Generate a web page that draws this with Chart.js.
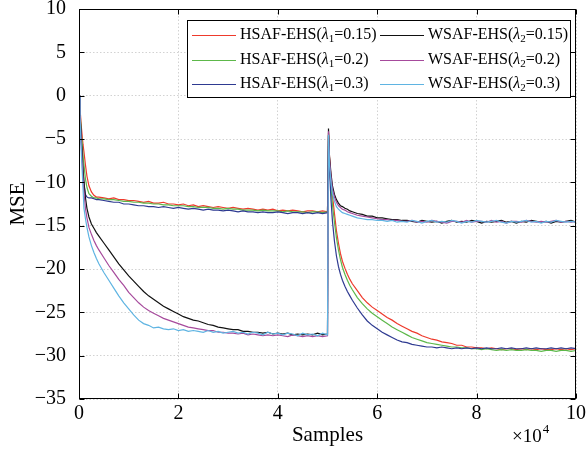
<!DOCTYPE html>
<html lang="en">
<head>
<meta charset="UTF-8">
<title>MSE vs Samples</title>
<script src="https://cdn.jsdelivr.net/npm/chart.js"></script>
<style>
  body { margin: 0; background: #fff; }
  #wrap { width: 587px; height: 453px; }
</style>
</head>
<body>
<div id="wrap"><canvas id="mseChart" width="587" height="453"></canvas></div>
<script>
// x in units of 10^4 samples
const samples = [
  0, 0.02, 0.05, 0.08, 0.1, 0.13, 0.16, 0.2, 0.25, 0.3, 0.35, 0.4,
  0.5, 0.6, 0.7, 0.8, 0.9, 1.0, 1.1, 1.2, 1.3, 1.4,
  1.5, 1.6, 1.7, 1.8, 1.9, 2.0, 2.1, 2.2, 2.3, 2.4,
  2.5, 2.6, 2.7, 2.8, 2.9, 3.0, 3.1, 3.2, 3.3, 3.4,
  3.5, 3.6, 3.7, 3.8, 3.9, 4.0, 4.1, 4.2, 4.3, 4.4,
  4.5, 4.6, 4.7, 4.8, 4.9, 5.0,
  5.02, 5.04, 5.07, 5.1, 5.14, 5.18, 5.22, 5.26, 5.3, 5.35, 5.4, 5.45, 5.5,
  5.6, 5.7, 5.8, 5.9, 6.0, 6.1, 6.2, 6.3, 6.4, 6.5,
  6.6, 6.7, 6.8, 6.9, 7.0, 7.1, 7.2, 7.3, 7.4, 7.5,
  7.6, 7.7, 7.8, 7.9, 8.0, 8.1, 8.2, 8.3, 8.4, 8.5,
  8.6, 8.7, 8.8, 8.9, 9.0, 9.1, 9.2, 9.3, 9.4, 9.5,
  9.6, 9.7, 9.8, 9.9, 10.0
];

const hsaf015 = [
  0, -1.5, -3.8, -5.6, -6.5, -8.0, -9.3, -10.4, -11.1, -11.5, -11.7, -11.7,
  -11.8, -11.9, -11.8, -12.0, -12.0, -12.1, -12.1, -12.2, -12.3, -12.2,
  -12.4, -12.4, -12.3, -12.5, -12.5, -12.6, -12.5, -12.7, -12.6, -12.8,
  -12.7, -12.8, -12.9, -12.8, -12.9, -13.0, -12.9, -13.0, -13.1, -13.0,
  -13.1, -13.2, -13.1, -13.2, -13.1, -13.3, -13.2, -13.3, -13.2, -13.3,
  -13.4, -13.3, -13.3, -13.4, -13.3, -13.4,
  -4.3, -7.0, -9.5, -11.5, -13.6, -15.6, -17.0, -18.2, -19.1, -19.9, -20.6, -21.2, -21.7,
  -22.5, -23.3, -23.9, -24.4, -24.8, -25.2, -25.6, -25.9, -26.3, -26.6,
  -26.9, -27.2, -27.4, -27.7, -27.9, -28.1, -28.2, -28.4, -28.5, -28.6,
  -28.8, -28.8, -29.0, -29.0, -29.1, -29.1, -29.2, -29.1, -29.2, -29.3,
  -29.2, -29.2, -29.3, -29.2, -29.3, -29.2, -29.3, -29.2, -29.3, -29.3,
  -29.2, -29.3, -29.2, -29.3, -29.2
];

const hsaf02 = [
  0, -1.8, -4.5, -6.8, -8.0, -9.6, -10.6, -11.3, -11.6, -11.8, -11.8, -11.9,
  -11.9, -12.0, -12.0, -12.1, -12.2, -12.2, -12.3, -12.3, -12.4, -12.4,
  -12.5, -12.5, -12.6, -12.6, -12.7, -12.7, -12.7, -12.8, -12.8, -12.9,
  -12.9, -12.9, -13.0, -13.0, -13.1, -13.0, -13.1, -13.1, -13.2, -13.2,
  -13.2, -13.3, -13.2, -13.3, -13.3, -13.3, -13.4, -13.3, -13.4, -13.4,
  -13.4, -13.5, -13.4, -13.4, -13.5, -13.4,
  -4.5, -7.8, -10.6, -12.6, -14.6, -16.4, -17.8, -18.9, -19.8, -20.6, -21.3, -21.9, -22.4,
  -23.3, -24.0, -24.6, -25.1, -25.5, -25.9, -26.3, -26.7, -27.0, -27.3,
  -27.6, -27.9, -28.1, -28.3, -28.5, -28.6, -28.7, -28.8, -28.9, -29.0,
  -29.0, -29.1, -29.1, -29.2, -29.2, -29.3, -29.2, -29.3, -29.4, -29.3,
  -29.4, -29.3, -29.4, -29.4, -29.3, -29.4, -29.4, -29.5, -29.4, -29.4,
  -29.5, -29.4, -29.4, -29.5, -29.4
];

const hsaf03 = [
  0, -2.2, -5.6, -8.6, -10.2, -11.4, -11.7, -11.8, -11.8, -11.9, -12.0, -12.0,
  -12.1, -12.2, -12.3, -12.3, -12.5, -12.5, -12.6, -12.7, -12.7, -12.8,
  -12.8, -12.9, -12.8, -12.9, -13.0, -12.9, -13.0, -13.1, -13.0, -13.1,
  -13.2, -13.1, -13.2, -13.2, -13.3, -13.2, -13.3, -13.4, -13.3, -13.4,
  -13.4, -13.5, -13.4, -13.5, -13.5, -13.4, -13.5, -13.6, -13.5, -13.5,
  -13.6, -13.5, -13.6, -13.5, -13.6, -13.5,
  -4.6, -8.5, -12.0, -14.5, -16.8, -18.5, -19.7, -20.6, -21.3, -22.0, -22.6, -23.1, -23.6,
  -24.5, -25.3, -26.0, -26.5, -26.9, -27.3, -27.6, -27.9, -28.2, -28.4,
  -28.5, -28.7, -28.8, -28.9, -29.0, -29.0, -29.1, -29.0, -29.1, -29.2,
  -29.1, -29.2, -29.1, -29.2, -29.1, -29.2, -29.1, -29.2, -29.2, -29.1,
  -29.2, -29.1, -29.2, -29.2, -29.1, -29.2, -29.1, -29.2, -29.2, -29.1,
  -29.2, -29.1, -29.2, -29.1, -29.2
];

const wsaf015 = [
  0, -2.0, -5.5, -8.5, -10.0, -11.8, -13.0, -14.0, -14.8, -15.3, -15.8, -16.2,
  -17.0, -17.8, -18.6, -19.4, -20.1, -20.8, -21.4, -22.0, -22.6, -23.1,
  -23.5, -23.9, -24.3, -24.6, -24.9, -25.2, -25.5, -25.7, -25.9, -26.0,
  -26.2, -26.4, -26.5, -26.7, -26.8, -26.9, -27.0, -27.0, -27.2, -27.2,
  -27.3, -27.3, -27.4, -27.3, -27.5, -27.4, -27.5, -27.4, -27.6, -27.5,
  -27.6, -27.5, -27.6, -27.4, -27.6, -27.5,
  -3.8, -7.0, -9.0, -10.4, -11.4, -12.0, -12.4, -12.7, -12.8, -13.0, -13.1, -13.3, -13.4,
  -13.6, -13.7, -13.9, -13.9, -14.1, -14.1, -14.2, -14.3, -14.3, -14.4,
  -14.4, -14.5, -14.6, -14.4, -14.5, -14.6, -14.5, -14.7, -14.5, -14.4,
  -14.6, -14.5, -14.6, -14.4, -14.5, -14.7, -14.5, -14.6, -14.5, -14.4,
  -14.6, -14.5, -14.7, -14.5, -14.6, -14.4, -14.5, -14.6, -14.5, -14.7,
  -14.5, -14.6, -14.5, -14.4, -14.6
];

const wsaf02 = [
  0, -2.3, -6.2, -9.5, -11.2, -13.0, -14.1, -15.2, -16.0, -16.7, -17.3, -17.8,
  -18.7, -19.6, -20.4, -21.2, -21.9, -22.7, -23.3, -23.9, -24.4, -24.8,
  -25.1, -25.4, -25.7, -25.9, -26.1, -26.3, -26.5, -26.7, -26.8, -26.9,
  -27.0, -27.1, -27.1, -27.3, -27.3, -27.4, -27.4, -27.5, -27.4, -27.6,
  -27.5, -27.6, -27.7, -27.6, -27.7, -27.6, -27.7, -27.8, -27.6, -27.7,
  -27.8, -27.7, -27.8, -27.7, -27.8, -27.7,
  -4.1, -7.4, -9.4, -10.8, -11.7, -12.3, -12.7, -12.9, -13.1, -13.2, -13.4, -13.5, -13.6,
  -13.8, -13.9, -14.0, -14.1, -14.2, -14.3, -14.3, -14.4, -14.4, -14.5,
  -14.5, -14.4, -14.6, -14.5, -14.6, -14.4, -14.5, -14.6, -14.7, -14.5,
  -14.5, -14.6, -14.4, -14.6, -14.5, -14.5, -14.6, -14.4, -14.6, -14.5,
  -14.7, -14.5, -14.5, -14.6, -14.4, -14.5, -14.6, -14.5, -14.6, -14.5,
  -14.4, -14.6, -14.5, -14.6, -14.5
];

const wsaf03 = [
  0, -2.6, -7.0, -10.6, -13.0, -14.2, -15.2, -16.3, -17.3, -18.1, -18.8, -19.4,
  -20.4, -21.3, -22.2, -23.1, -23.9, -24.6, -25.3, -25.9, -26.3, -26.5,
  -26.8, -26.7, -26.9, -27.0, -26.9, -27.1, -27.0, -27.2, -27.1, -27.2,
  -27.3, -27.1, -27.3, -27.2, -27.4, -27.3, -27.2, -27.4, -27.3, -27.5,
  -27.3, -27.4, -27.6, -27.3, -27.5, -27.4, -27.6, -27.4, -27.5, -27.7,
  -27.4, -27.6, -27.5, -27.7, -27.4, -27.6,
  -4.5, -8.0, -10.0, -11.3, -12.2, -12.8, -13.1, -13.3, -13.5, -13.6, -13.7, -13.8, -13.9,
  -14.1, -14.2, -14.3, -14.3, -14.4, -14.4, -14.5, -14.4, -14.6, -14.5,
  -14.6, -14.4, -14.5, -14.7, -14.5, -14.4, -14.6, -14.5, -14.6, -14.4,
  -14.5, -14.7, -14.5, -14.6, -14.4, -14.5, -14.6, -14.5, -14.4, -14.6,
  -14.7, -14.5, -14.6, -14.5, -14.4, -14.6, -14.5, -14.7, -14.5, -14.6,
  -14.4, -14.5, -14.6, -14.5, -14.6
];

const seriesNames = [
  ['HSAF-EHS(', '1', '=0.15)'], ['HSAF-EHS(', '1', '=0.2)'], ['HSAF-EHS(', '1', '=0.3)'],
  ['WSAF-EHS(', '2', '=0.15)'], ['WSAF-EHS(', '2', '=0.2)'], ['WSAF-EHS(', '2', '=0.3)']
];
const seriesColors = ['#ee3a2c', '#5db84a', '#2e3a91', '#111111', '#a64a9c', '#5fb4e2'];
const seriesData = [hsaf015, hsaf02, hsaf03, wsaf015, wsaf02, wsaf03];
const drawOrder = [5, 4, 3, 2, 1, 0];

const serif = '"Liberation Serif", "Times New Roman", serif';

// text like HSAF-EHS(λ1=0.15) with italic lambda and subscript
function drawName(ctx, x, y, parts) {
  ctx.textBaseline = 'middle';
  ctx.textAlign = 'left';
  ctx.font = '16px ' + serif;
  ctx.fillText(parts[0], x, y);
  x += ctx.measureText(parts[0]).width;
  ctx.font = 'italic 16px ' + serif;
  ctx.fillText('\u03bb', x, y);
  x += ctx.measureText('\u03bb').width;
  ctx.font = '11px ' + serif;
  ctx.fillText(parts[1], x, y + 4);
  x += ctx.measureText(parts[1]).width;
  ctx.font = '16px ' + serif;
  ctx.fillText(parts[2], x, y);
}

const frame = {
  id: 'frame',
  afterDatasetsDraw(chart) {
    const { ctx, chartArea: a, scales } = chart;
    const L = Math.round(a.left) + 0.5, R = Math.round(a.right) - 0.5;
    const T = Math.round(a.top) + 0.5, B = Math.round(a.bottom) - 0.5;
    ctx.save();
    ctx.strokeStyle = '#000';
    ctx.lineWidth = 1;
    ctx.beginPath();
    scales.x.ticks.forEach(t => {
      const p = Math.round(scales.x.getPixelForValue(t.value)) + 0.5;
      ctx.moveTo(p, B); ctx.lineTo(p, B - 5);
      ctx.moveTo(p, T); ctx.lineTo(p, T + 5);
    });
    scales.y.ticks.forEach(t => {
      const p = Math.round(scales.y.getPixelForValue(t.value)) + 0.5;
      ctx.moveTo(L, p); ctx.lineTo(L + 5, p);
      ctx.moveTo(R, p); ctx.lineTo(R - 5, p);
    });
    ctx.stroke();
    ctx.strokeRect(L, T, R - L, B - T);

    // legend box
    ctx.fillStyle = '#fff';
    ctx.fillRect(187, 20, 383, 77);
    ctx.strokeRect(187.5, 20.5, 383, 77);
    const rows = [35, 60, 84];
    seriesNames.forEach((parts, i) => {
      const col = i < 3 ? 0 : 1;
      const y = rows[i % 3];
      const lx = col === 0 ? 192 : 380;
      const tx = col === 0 ? 240 : 428;
      ctx.strokeStyle = seriesColors[i];
      ctx.lineWidth = 1.2;
      ctx.beginPath();
      ctx.moveTo(lx, y + 0.5); ctx.lineTo(lx + 44, y + 0.5);
      ctx.stroke();
      ctx.fillStyle = '#000';
      drawName(ctx, tx, y, parts);
    });

    // exponent note under the x axis
    ctx.fillStyle = '#000';
    ctx.textBaseline = 'middle';
    ctx.textAlign = 'left';
    ctx.font = '19px ' + serif;
    ctx.fillText('\u00d710', 512, 437);
    const w = ctx.measureText('\u00d710').width;
    ctx.font = '13px ' + serif;
    ctx.fillText('4', 512 + w + 1, 430);
    ctx.restore();
  }
};

new Chart(document.getElementById('mseChart'), {
  type: 'line',
  data: {
    datasets: seriesData.map((arr, i) => ({
      label: seriesNames[i].join(''),
      data: samples.map((x, j) => ({ x: x, y: arr[j] })),
      borderColor: seriesColors[i],
      borderWidth: 1.2,
      pointRadius: 0,
      fill: false,
      tension: 0,
      order: drawOrder[i]
    }))
  },
  options: {
    responsive: false,
    animation: false,
    events: [],
    layout: { padding: { top: 9, right: 11, left: 0, bottom: 0 } },
    plugins: { legend: { display: false }, tooltip: { enabled: false } },
    scales: {
      x: {
        type: 'linear', min: 0, max: 10,
        ticks: { stepSize: 2, padding: 3, maxRotation: 0, color: '#000', font: { family: serif, size: 20 } },
        grid: { color: '#d2d2d2', lineWidth: 1, drawTicks: false },
        border: { display: false, dash: [1.5, 2] },
        title: { display: true, text: 'Samples', color: '#000', font: { family: serif, size: 21 }, padding: { top: 0, bottom: 5 } },
        afterFit(s) { s.height = 54; s.paddingLeft = 0; s.paddingRight = 0; }
      },
      y: {
        min: -35, max: 10,
        ticks: {
          stepSize: 5, padding: 13, color: '#000', font: { family: serif, size: 20 },
          callback: v => v < 0 ? '\u2212' + Math.abs(v) : String(v)
        },
        grid: { color: '#d2d2d2', lineWidth: 1, drawTicks: false },
        border: { display: false, dash: [1.5, 2] },
        title: { display: true, text: 'MSE', color: '#000', font: { family: serif, size: 21 }, padding: { top: 6, bottom: 0 } },
        afterFit(s) { s.width = 79; s.paddingTop = 0; s.paddingBottom = 0; }
      }
    }
  },
  plugins: [frame]
});
</script>
</body>
</html>
